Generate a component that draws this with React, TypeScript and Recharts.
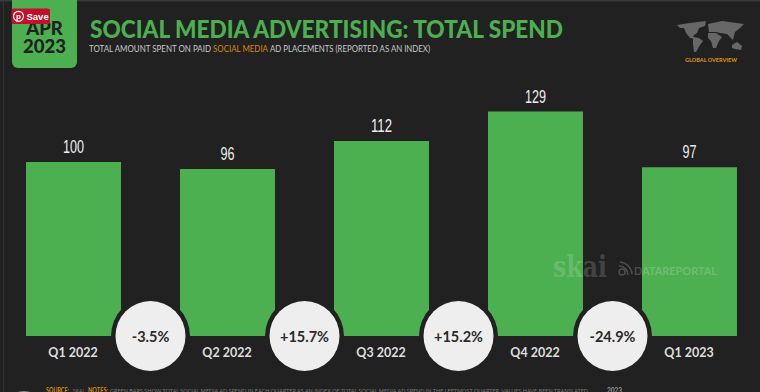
import { BarChart, Bar, XAxis, YAxis, LabelList } from "recharts";

const quarters = ["Q1 2022", "Q2 2022", "Q3 2022", "Q4 2022", "Q1 2023"];
const spendIndex = [100, 96, 112, 129, 97];
const changes = ["-3.5%", "+15.7%", "+15.2%", "-24.9%", ""];

const chartData = quarters.map((quarter, i) => ({
  quarter,
  spend: spendIndex[i],
  change: changes[i],
}));

const GREEN = "#4caf50";
const BG = "#212121";
const ORANGE = "#d98a12";
const HEAD = "Lato, sans-serif";

// bubble sits in the gap to the right of each bar, on the baseline
function ChangeBubble(props: any) {
  const { x, y, width, height, value } = props;
  if (!value) return null;
  const cx = x + width + 29.5;
  const cy = y + height;
  return (
    <g>
      <circle cx={cx} cy={cy} r={39.5} fill={BG} />
      <circle cx={cx} cy={cy} r={35} fill="#eeeeee" />
      <text x={cx} y={cy + 5.5} textAnchor="middle" fontFamily={HEAD} fontWeight={700} fontSize={14.5} fill="#2a2a2a">
        {value}
      </text>
    </g>
  );
}

// no condensed face installed, so squeeze the digits to the reference width
function ValueLabel(props: any) {
  const { x, y, width, value } = props;
  const digits = String(value).length;
  return (
    <text
      x={x + width / 2}
      y={y - 9}
      textAnchor="middle"
      fontFamily="Liberation Sans, sans-serif"
      fontSize={19}
      fill="#eeeeee"
      textLength={digits * 7}
      lengthAdjust="spacingAndGlyphs"
    >
      {value}
    </text>
  );
}

function Overlay() {
  return (
    <svg width={760} height={392} style={{ position: "absolute", left: 0, top: 0 }}>
      <rect x={0} y={0} width={760} height={1.5} fill="#3a3a3a" />
      <rect x={3} y={0} width={1} height={392} fill="#333333" />

      <path d="M12 0H77V62a6 6 0 0 1-6 6H18a6 6 0 0 1-6-6Z" fill={GREEN} />
      <text x={44.5} y={35} textAnchor="middle" fontFamily={HEAD} fontWeight={900} fontSize={18.5} fill="#212121">APR</text>
      <text x={44.5} y={53} textAnchor="middle" fontFamily={HEAD} fontWeight={900} fontSize={18.5} fill="#212121">2023</text>

      <rect x={11.5} y={8.5} width={38.5} height={15.5} rx={2} fill="#c2102a" />
      <circle cx={18.5} cy={16.3} r={5} fill="none" stroke="#fff" strokeWidth={1.2} />
      <text x={18.5} y={19.3} textAnchor="middle" fontFamily="Liberation Sans" fontWeight={700} fontSize={8} fill="#fff">p</text>
      <text x={26.5} y={20} fontFamily="Liberation Sans" fontWeight={700} fontSize={9.5} fill="#fff">Save</text>

      <text x={90} y={38} fontFamily={HEAD} fontWeight={900} fontSize={24} fill={GREEN} textLength={473} lengthAdjust="spacingAndGlyphs">
        SOCIAL MEDIA ADVERTISING: TOTAL SPEND
      </text>
      <text x={89} y={52} fontFamily={HEAD} fontSize={9.5} fill="#c9c9c9" textLength={122} lengthAdjust="spacingAndGlyphs">
        TOTAL AMOUNT SPENT ON PAID
      </text>
      <text x={213} y={52} fontFamily={HEAD} fontSize={9.5} fill={ORANGE} textLength={55} lengthAdjust="spacingAndGlyphs">
        SOCIAL MEDIA
      </text>
      <text x={270} y={52} fontFamily={HEAD} fontSize={9.5} fill="#c9c9c9" textLength={160} lengthAdjust="spacingAndGlyphs">
        AD PLACEMENTS (REPORTED AS AN INDEX)
      </text>

      <g fill="#676767">
        <path d="M677 25L690 23L706 21L705 26L699 28L697 33L693 36L695 39L690 38L686 33L684 28L680 28Z" />
        <path d="M693 37L699 38L703 41L700 45L696 52L694 52L693 44Z" />
        <path d="M708 24L722 21L744 24L740 28L735 32L733 40L730 37L727 34L720 33L716 32L709 32Z" />
        <path d="M708 33L716 33L722 37L719 41L716 48L713 48L711 41L708 38Z" />
        <path d="M732 45L737 42L742 46L741 50L735 49L732 48Z" />
      </g>
      <text x={685} y={61.5} fontFamily={HEAD} fontWeight={900} fontSize={5.6} fill={ORANGE} textLength={52} lengthAdjust="spacingAndGlyphs">
        GLOBAL OVERVIEW
      </text>

      <text x={553} y={277} fontFamily="DejaVu Serif" fontWeight={700} fontSize={29} fill="#ffffff" fillOpacity={0.17} textLength={54} lengthAdjust="spacingAndGlyphs">
        skai
      </text>
      <g fill="none" stroke="#ffffff" strokeOpacity={0.2} strokeWidth={1.6}>
        <circle cx={622} cy={272} r={3} />
        <path d="M619 266A9 9 0 0 1 628 275" />
        <path d="M620 262A13 13 0 0 1 632 274" />
      </g>
      <text x={634} y={275} fontFamily={HEAD} fontWeight={700} fontSize={11} fill="#ffffff" fillOpacity={0.2} textLength={83} lengthAdjust="spacingAndGlyphs">
        DATAREPORTAL
      </text>

      <ellipse cx={24} cy={392.5} rx={6} ry={1.5} fill="#888888" />
      <text x={46} y={392.5} fontFamily={HEAD} fontWeight={700} fontSize={6.5} fill={ORANGE} textLength={23} lengthAdjust="spacingAndGlyphs">SOURCE:</text>
      <text x={73} y={392.5} fontFamily={HEAD} fontSize={6.5} fill="#777777" textLength={12} lengthAdjust="spacingAndGlyphs">SKAI.</text>
      <text x={88} y={392.5} fontFamily={HEAD} fontWeight={700} fontSize={6.5} fill={ORANGE} textLength={20} lengthAdjust="spacingAndGlyphs">NOTES:</text>
      <text x={110} y={392.5} fontFamily={HEAD} fontSize={6.5} fill="#777777" textLength={478} lengthAdjust="spacingAndGlyphs">
        GREEN BARS SHOW TOTAL SOCIAL MEDIA AD SPEND IN EACH QUARTER AS AN INDEX OF TOTAL SOCIAL MEDIA AD SPEND IN THE LEFTMOST QUARTER. VALUES HAVE BEEN TRANSLATED
      </text>
      <text x={607} y={392.5} fontFamily={HEAD} fontWeight={700} fontSize={6.5} fill="#999999">2023</text>
    </svg>
  );
}

export default function App() {
  return (
    <div style={{ position: "absolute", left: 0, top: 0, width: 760, height: 392, overflow: "hidden", background: BG }}>
      <div style={{ position: "absolute", left: -4, top: 0 }}>
        <BarChart width={770} height={392} data={chartData} margin={{ top: 75, right: 0, bottom: 0, left: 0 }}>
          <XAxis
            dataKey="quarter"
            height={56}
            axisLine={false}
            tickLine={false}
            interval={0}
            tickMargin={6}
            tick={{ fontFamily: HEAD, fontWeight: 700, fontSize: 12.5, fill: "#dedede" }}
          />
          <YAxis hide domain={[0, 150]} />
          <Bar dataKey="spend" fill={GREEN} barSize={95} isAnimationActive={false}>
            <LabelList dataKey="spend" content={ValueLabel} />
            <LabelList dataKey="change" content={ChangeBubble} />
          </Bar>
        </BarChart>
      </div>
      <Overlay />
    </div>
  );
}
